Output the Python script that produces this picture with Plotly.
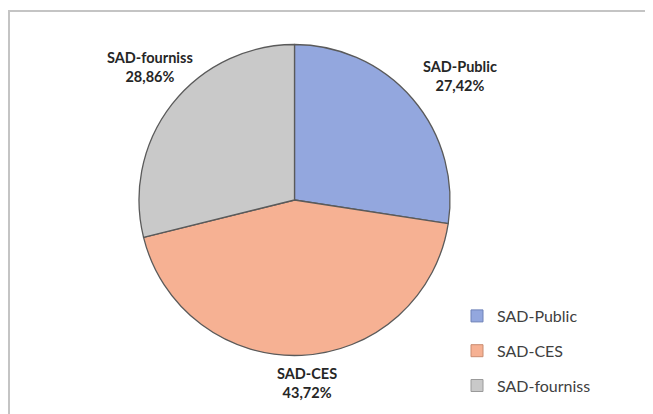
import plotly.graph_objects as go

labels = ["SAD-Public", "SAD-CES", "SAD-fourniss"]
values = [27.42, 43.72, 28.86]
value_text = ["27,42%", "43,72%", "28,86%"]
colors = ["#93A7DE", "#F6B193", "#C9C9C9"]
legend_line = ["#6F82B8", "#C98C70", "#9A9A9A"]

# where the data labels sit (pixels from top-left of the figure)
label_pos = [(452, 68), (299, 375), (142, 59.5)]

W, H = 653, 414

fig = go.Figure()

fig.add_trace(go.Pie(
    labels=labels,
    values=values,
    text=value_text,
    textinfo="none",
    marker=dict(colors=colors, line=dict(color="#5A5A5A", width=1.3)),
    sort=False,
    direction="clockwise",
    rotation=0,
    showlegend=False,
    hoverinfo="label+text",
    domain=dict(x=[131 / W, 442 / W], y=[1 - 347.5 / H, 1 - 36.5 / H]),
))

# legend entries (separate groups so the spacing matches the original)
for i, lab in enumerate(labels):
    fig.add_trace(go.Bar(
        x=[None], y=[None], name=lab,
        marker=dict(color=colors[i], line=dict(color=legend_line[i], width=1)),
        legendgroup=lab, showlegend=True,
    ))

annotations = []
for lab, txt, (px_, py_) in zip(labels, value_text, label_pos):
    annotations.append(dict(
        x=px_ / W, y=1 - py_ / H, xref="paper", yref="paper",
        text=f"<b>{lab}<br>{txt}</b>", showarrow=False,
        font=dict(family="Lato", size=14.5, color="#262626"),
        align="center", xanchor="center", yanchor="middle",
    ))

fig.update_layout(
    width=W, height=H,
    margin=dict(l=0, r=0, t=0, b=0),
    paper_bgcolor="white",
    plot_bgcolor="white",
    xaxis=dict(visible=False),
    yaxis=dict(visible=False),
    font=dict(family="Lato", color="#404040"),
    annotations=annotations,
    legend=dict(
        x=449 / W, y=1 - 291 / H, xanchor="left", yanchor="top",
        font=dict(family="Lato", size=16, color="#404040"),
        tracegroupgap=11,
        bgcolor="rgba(0,0,0,0)",
    ),
    shapes=[dict(
        type="rect", xref="paper", yref="paper",
        x0=1 / W, x1=1.05, y0=-0.05, y1=1 - 3 / H,
        line=dict(color="#C4C4C4", width=2),
    )],
)

fig.write_html("out.html")
